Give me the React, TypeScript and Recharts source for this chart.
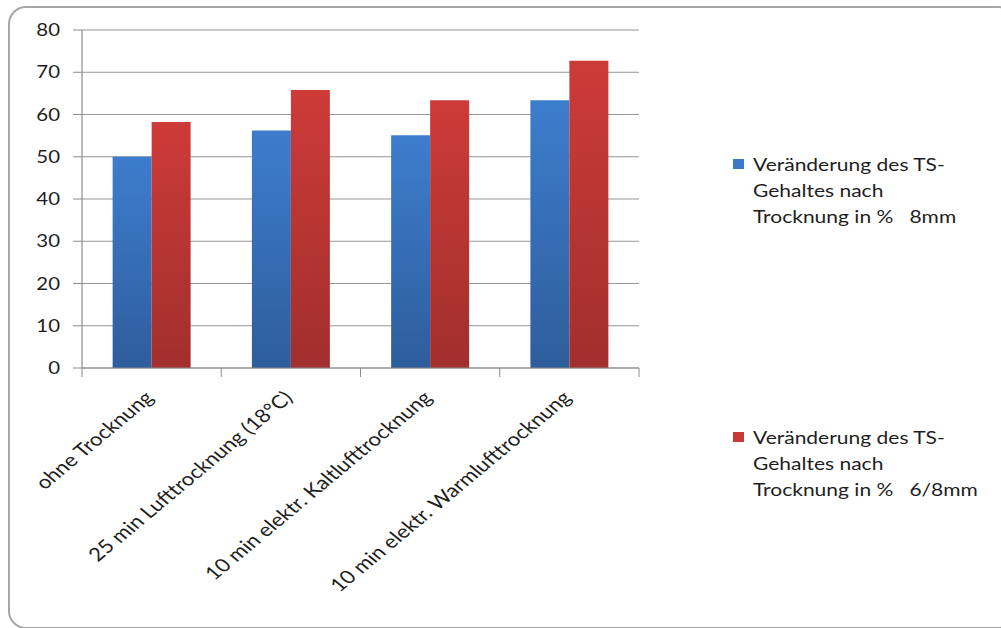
import { BarChart, Bar, XAxis, YAxis, CartesianGrid } from 'recharts';

const categories = [
  'ohne Trocknung',
  '25 min Lufttrocknung (18°C)',
  '10 min elektr. Kaltlufttrocknung',
  '10 min elektr. Warmlufttrocknung',
];
const series8mm = [50.0, 56.2, 55.1, 63.4];
const series68mm = [58.2, 65.8, 63.4, 72.7];
const seriesNames = [
  'Veränderung des TS-Gehaltes nach Trocknung in %   8mm',
  'Veränderung des TS-Gehaltes nach Trocknung in %   6/8mm',
];
const legendLines = [
  ['Veränderung des TS-', 'Gehaltes nach', 'Trocknung in %\u00a0\u00a0\u00a08mm'],
  ['Veränderung des TS-', 'Gehaltes nach', 'Trocknung in %\u00a0\u00a0\u00a06/8mm'],
];
const yTicks = [0, 10, 20, 30, 40, 50, 60, 70, 80];

const data = categories.map((name, i) => ({ name, a: series8mm[i], b: series68mm[i] }));

const W = 1001;
const H = 628;
const MARGIN = { top: 30, right: 362, left: 0, bottom: 0 };
const Y_W = 82;
const BAND = (W - MARGIN.right - MARGIN.left - Y_W) / categories.length;
const LABEL_GAP = 31;

const FONT = 'Lato, "Open Sans", sans-serif';
const AXIS = '#8c8c8c';
const INK = '#1e1e1e';
const SWATCH = ['#3b78c8', '#c83a37'];

// the original is stretched sideways a bit, so text is widened the same way
function YTick({ x, y, payload }: any) {
  return (
    <text
      transform={`translate(${x},${y}) scale(1.2,1)`}
      textAnchor="end"
      dy="0.36em"
      fontFamily={FONT}
      fontSize={17}
      fill={INK}
    >
      {payload.value}
    </text>
  );
}

function XTick({ x, y, payload, index }: any) {
  const y0 = y - LABEL_GAP;
  const left = x - BAND / 2;
  return (
    <g>
      <line x1={left} x2={left} y1={y0} y2={y0 + 9} stroke={AXIS} />
      {index === categories.length - 1 && (
        <line x1={left + BAND} x2={left + BAND} y1={y0} y2={y0 + 9} stroke={AXIS} />
      )}
      <text
        transform={`translate(${x + 3},${y}) scale(1.2,1) rotate(-45)`}
        textAnchor="end"
        fontFamily={FONT}
        fontSize={18.5}
        fill={INK}
      >
        {payload.value}
      </text>
    </g>
  );
}

function LegendBox() {
  return (
    <div style={{ position: 'absolute', left: 733, top: 152, width: 260, fontFamily: FONT, fontSize: 17.5, color: INK }}>
      {legendLines.map((lines, i) => (
        <div key={i} title={seriesNames[i]} style={{ position: 'relative', height: 273 }}>
          <span
            style={{
              position: 'absolute', left: 0, top: 7, width: 11, height: 10,
              background: SWATCH[i],
            }}
          />
          <div style={{ position: 'absolute', left: 20, top: 0, transform: 'scaleX(1.2)', transformOrigin: 'left top', lineHeight: '26px', whiteSpace: 'nowrap' }}>
            {lines.map((l) => <div key={l}>{l}</div>)}
          </div>
        </div>
      ))}
    </div>
  );
}

export default function App() {
  return (
    <div style={{ position: 'absolute', left: 0, top: 0, width: W, height: H, overflow: 'hidden', background: '#fff' }}>
      <div
        style={{
          position: 'absolute', left: 8, top: 6, width: 1004, height: 619,
          border: '2px solid #a6a6a6', borderRadius: 18,
        }}
      />
      <div style={{ position: 'absolute', left: 0, top: 0 }}>
        <BarChart
          width={W}
          height={H}
          data={data}
          margin={MARGIN}
          barCategoryGap="22%"
          barGap={0}
        >
          <defs>
            <linearGradient id="gBlue" x1="0" y1="0" x2="0" y2="1">
              <stop offset="0%" stopColor="#3d7dcd" />
              <stop offset="100%" stopColor="#2e5d9c" />
            </linearGradient>
            <linearGradient id="gRed" x1="0" y1="0" x2="0" y2="1">
              <stop offset="0%" stopColor="#cd3b38" />
              <stop offset="100%" stopColor="#a12f2d" />
            </linearGradient>
          </defs>
          <CartesianGrid vertical={false} stroke="#969696" strokeWidth={1.2} />
          <XAxis
            dataKey="name"
            interval={0}
            height={260}
            axisLine={{ stroke: AXIS, strokeWidth: 1.2 }}
            tickLine={false}
            tickSize={0}
            tickMargin={LABEL_GAP}
            tick={<XTick />}
          />
          <YAxis
            width={Y_W}
            domain={[0, 80]}
            ticks={yTicks}
            axisLine={{ stroke: AXIS, strokeWidth: 1.2 }}
            tickLine={{ stroke: AXIS }}
            tickSize={9}
            tickMargin={13}
            tick={<YTick />}
          />
          <Bar dataKey="a" name={seriesNames[0]} fill="url(#gBlue)" isAnimationActive={false} />
          <Bar dataKey="b" name={seriesNames[1]} fill="url(#gRed)" isAnimationActive={false} />
        </BarChart>
      </div>
      <LegendBox />
    </div>
  );
}
